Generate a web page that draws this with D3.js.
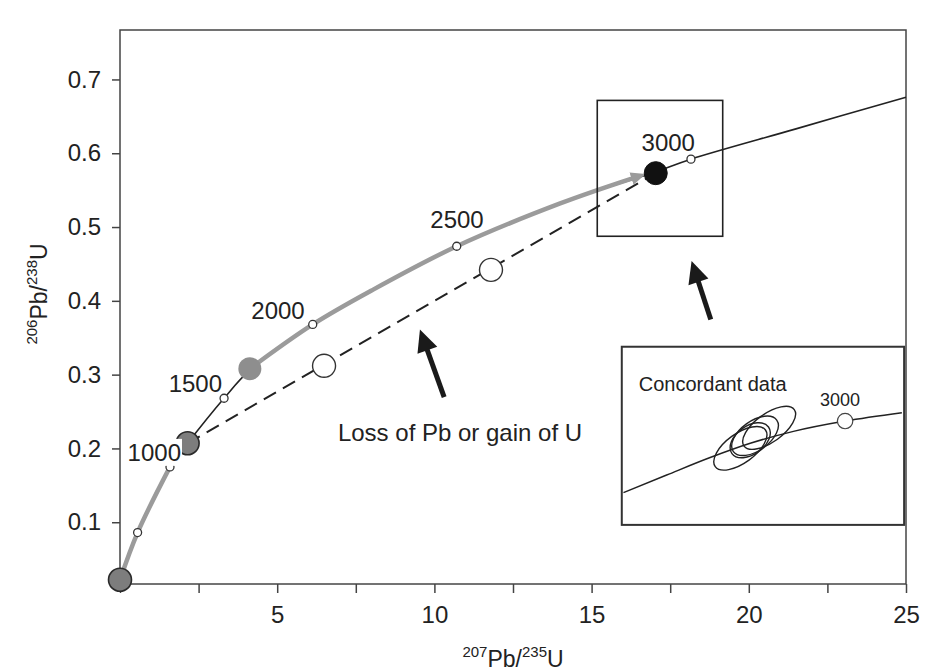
<!DOCTYPE html>
<html><head><meta charset="utf-8">
<script src="https://cdn.jsdelivr.net/npm/d3@7"></script>
<style>
body{margin:0;background:#fff}
svg{display:block}
text{font-family:"Liberation Sans",Arial,Helvetica,sans-serif;fill:#222}
</style>
</head><body>
<svg id="chart" width="926" height="671"></svg>
<script>
// ---------- data ----------
// concordia curve, 207Pb/235U vs 206Pb/238U
const concordiaX = [0, 0.56, 1.59, 2.15, 3.31, 4.13, 6.13, 8.0, 10.71, 14.0, 17.04, 18.16, 21.5, 25];
const concordiaY = [0.022, 0.086, 0.175, 0.207, 0.268, 0.306, 0.368, 0.414, 0.474, 0.532, 0.575, 0.592, 0.633, 0.676];
// age markers on the concordia (Ma)
const ages = [500, 1000, 1500, 2000, 2500, 3000];
const ageX = [0.56, 1.59, 3.31, 6.13, 10.71, 18.16];
const ageY = [0.086, 0.175, 0.268, 0.368, 0.474, 0.592];
const labeledAges = ["1000", "1500", "2000", "2500", "3000"];
// samples
const sampleX = [0, 2.15, 4.13, 6.49, 11.8, 17.04];
const sampleY = [0.022, 0.207, 0.308, 0.312, 0.442, 0.573];
const sampleKind = ["gray", "gray", "light", "open", "open", "black"];
// discordia (dashed)
const discordiaX = [2.15, 17.04];
const discordiaY = [0.207, 0.573];
// grey growth arrows along concordia
const grayArrow1X = [0, 0.56, 1.59];
const grayArrow1Y = [0.022, 0.086, 0.175];
const grayArrow2X = [4.13, 6.13, 8.0, 10.71, 14.0, 16.3];
const grayArrow2Y = [0.308, 0.368, 0.414, 0.474, 0.532, 0.566];
// black annotation arrows: [tailX, tipX], [tailY, tipY]
const blackArrowX = [[10.31, 9.54], [18.79, 18.18]];
const blackArrowY = [[0.2695, 0.361], [0.3747, 0.454]];
const annotationText = "Loss of Pb or gain of U";
// zoom box and inset box (data coords)
const zoomBoxX = [15.18, 19.17];
const zoomBoxY = [0.4875, 0.6716];
const insetBoxX = [15.96, 24.94];
const insetBoxY = [0.0964, 0.3378];
// inset content (inset units 0..10)
const insetTitle = "Concordant data";
const insetCurveX = [0.06, 1.59, 3.13, 4.55, 6.08, 7.91, 9.92];
const insetCurveY = [1.81, 2.80, 3.78, 4.58, 5.25, 5.83, 6.30];
const insetAgeX = [7.91];
const insetAgeY = [5.83];
const insetAgeLabel = ["3000"];
const ellipseCX = [5.22, 4.20, 4.72, 4.55];
const ellipseCY = [5.45, 4.30, 5.00, 4.75];
const ellipseRX = [1.10, 1.10, 0.95, 0.80];
const ellipseRY = [0.50, 0.52, 0.52, 0.50];
// axis ticks
const xTicks = [0, 2.5, 5, 7.5, 10, 12.5, 15, 17.5, 20, 22.5, 25];
const xTickLabels = ["", "", "5", "", "10", "", "15", "", "20", "", "25"];
const yTicks = [0.1, 0.2, 0.3, 0.4, 0.5, 0.6, 0.7];
const yTickLabels = ["0.1", "0.2", "0.3", "0.4", "0.5", "0.6", "0.7"];

// ---------- layout ----------
const svg = d3.select("#chart");
const L = 120, R = 906, T = 30, B = 584;
const x = d3.scaleLinear().domain([0, 25]).range([L, R]);
const y = d3.scaleLinear().domain([0.0163, 0.767]).range([B, T]);

const zip = (a, b) => a.map((v, i) => [v, b[i]]);
const line = d3.line().x(d => x(d[0])).y(d => y(d[1])).curve(d3.curveCatmullRom.alpha(0.5));

// axes
const xAxis = d3.axisBottom(x).tickValues(xTicks).tickSize(9).tickPadding(13)
  .tickFormat((d, i) => xTickLabels[i]);
const yAxis = d3.axisLeft(y).tickValues(yTicks).tickSize(8).tickPadding(11)
  .tickFormat((d, i) => yTickLabels[i]);
const gx = svg.append("g").attr("transform", `translate(0,${B})`).call(xAxis);
const gy = svg.append("g").attr("transform", `translate(${L},0)`).call(yAxis);
[gx, gy].forEach(g => {
  g.select(".domain").remove();
  g.selectAll(".tick line").attr("stroke", "#444").attr("stroke-width", 1.5);
  g.selectAll(".tick text").attr("font-size", 24).attr("fill", "#222")
    .attr("font-family", '"Liberation Sans",Arial,sans-serif');
});
// frame
svg.append("rect").attr("x", L).attr("y", T).attr("width", R - L).attr("height", B - T)
  .attr("fill", "none").attr("stroke", "#444").attr("stroke-width", 1.5);

// axis titles
const xt = svg.append("text").attr("x", (L + R) / 2).attr("y", 667).attr("text-anchor", "middle").attr("font-size", 23);
xt.append("tspan").attr("font-size", 15).attr("dy", -10).text("207");
xt.append("tspan").attr("dy", 10).text("Pb/");
xt.append("tspan").attr("font-size", 15).attr("dy", -10).text("235");
xt.append("tspan").attr("dy", 10).text("U");

const yt = svg.append("text").attr("transform", "translate(47,294) rotate(-90)").attr("text-anchor", "middle").attr("font-size", 23);
yt.append("tspan").attr("font-size", 15).attr("dy", -10).text("206");
yt.append("tspan").attr("dy", 10).text("Pb/");
yt.append("tspan").attr("font-size", 15).attr("dy", -10).text("238");
yt.append("tspan").attr("dy", 10).text("U");

// concordia
svg.append("path").attr("d", line(zip(concordiaX, concordiaY)))
  .attr("fill", "none").attr("stroke", "#222").attr("stroke-width", 1.6);

// grey arrows
const grey = "#9b9b9b";
svg.append("defs").append("marker").attr("id", "gh")
  .attr("markerUnits", "userSpaceOnUse").attr("markerWidth", 16).attr("markerHeight", 16)
  .attr("viewBox", "0 -8 16 16").attr("refX", 1).attr("refY", 0).attr("orient", "auto")
  .append("path").attr("d", "M0,-6.5L15,0L0,6.5Z").attr("fill", grey);
svg.append("path").attr("d", line(zip(grayArrow1X, grayArrow1Y)))
  .attr("fill", "none").attr("stroke", grey).attr("stroke-width", 4.5);
svg.append("path").attr("d", line(zip(grayArrow2X, grayArrow2Y)))
  .attr("fill", "none").attr("stroke", grey).attr("stroke-width", 4.5)
  .attr("marker-end", "url(#gh)");

// discordia
svg.append("line").attr("x1", x(discordiaX[0])).attr("y1", y(discordiaY[0]))
  .attr("x2", x(discordiaX[1])).attr("y2", y(discordiaY[1]))
  .attr("stroke", "#222").attr("stroke-width", 2).attr("stroke-dasharray", "14,8");

// zoom box
svg.append("rect").attr("x", x(zoomBoxX[0])).attr("y", y(zoomBoxY[1]))
  .attr("width", x(zoomBoxX[1]) - x(zoomBoxX[0])).attr("height", y(zoomBoxY[0]) - y(zoomBoxY[1]))
  .attr("fill", "none").attr("stroke", "#222").attr("stroke-width", 1.6);

// age markers
svg.selectAll("circle.age").data(zip(ageX, ageY)).join("circle").attr("class", "age")
  .attr("cx", d => x(d[0])).attr("cy", d => y(d[1])).attr("r", 4)
  .attr("fill", "#fff").attr("stroke", "#333").attr("stroke-width", 1.3);

// samples
const sampleStyle = {
  gray: {fill: "#7d7d7d", stroke: "#2a2a2a", sw: 1.6},
  light: {fill: "#8e8e8e", stroke: "none", sw: 0},
  open: {fill: "#fff", stroke: "#333", sw: 1.4},
  black: {fill: "#111", stroke: "#111", sw: 1}
};
svg.selectAll("circle.smp").data(sampleX.map((v, i) => ({x: v, y: sampleY[i], k: sampleKind[i]})))
  .join("circle").attr("class", "smp")
  .attr("cx", d => x(d.x)).attr("cy", d => y(d.y)).attr("r", 11.5)
  .attr("fill", d => sampleStyle[d.k].fill).attr("stroke", d => sampleStyle[d.k].stroke)
  .attr("stroke-width", d => sampleStyle[d.k].sw);

// age labels (offsets relative to the age markers)
const labelOffset = {"1000": [11, -6], "1500": [-2, -6], "2000": [-8, -5], "2500": [27, -18], "3000": [4, -8]};
labeledAges.forEach(a => {
  const i = ages.indexOf(+a);
  const px = x(ageX[i]) + labelOffset[a][0], py = y(ageY[i]) + labelOffset[a][1];
  if (a === "1000") {
    svg.append("rect").attr("x", px - 56).attr("y", py - 22).attr("width", 57).attr("height", 27).attr("fill", "#fff");
  }
  svg.append("text").attr("x", px).attr("y", py).attr("text-anchor", "end").attr("font-size", 24).text(a);
});

// black arrows
blackArrowX.forEach((ax, i) => {
  const t0 = [x(ax[0]), y(blackArrowY[i][0])], t1 = [x(ax[1]), y(blackArrowY[i][1])];
  const dx = t1[0] - t0[0], dy = t1[1] - t0[1], len = Math.hypot(dx, dy);
  const ux = dx / len, uy = dy / len, nx = -uy, ny = ux;
  const hl = 22, hw = 21;
  const bx = t1[0] - ux * hl, by = t1[1] - uy * hl;
  svg.append("line").attr("x1", t0[0]).attr("y1", t0[1]).attr("x2", bx + ux * 2).attr("y2", by + uy * 2)
    .attr("stroke", "#1a1a1a").attr("stroke-width", 5);
  svg.append("path").attr("d", `M${t1[0]},${t1[1]}L${bx + nx * hw / 2},${by + ny * hw / 2}L${bx - nx * hw / 2},${by - ny * hw / 2}Z`)
    .attr("fill", "#1a1a1a");
});
svg.append("text").attr("x", 460).attr("y", 441).attr("text-anchor", "middle").attr("font-size", 24).text(annotationText);

// inset
const ix0 = x(insetBoxX[0]), ix1 = x(insetBoxX[1]), iy0 = y(insetBoxY[1]), iy1 = y(insetBoxY[0]);
svg.append("rect").attr("x", ix0).attr("y", iy0).attr("width", ix1 - ix0).attr("height", iy1 - iy0)
  .attr("fill", "#fff").attr("stroke", "#333").attr("stroke-width", 2);
const ix = d3.scaleLinear().domain([0, 10]).range([ix0, ix1]);
const iy = d3.scaleLinear().domain([0, 10]).range([iy1, iy0]);
const iline = d3.line().x(d => ix(d[0])).y(d => iy(d[1])).curve(d3.curveMonotoneX);
svg.append("path").attr("d", iline(zip(insetCurveX, insetCurveY)))
  .attr("fill", "none").attr("stroke", "#222").attr("stroke-width", 1.5);
const upx = ix(1) - ix(0);
ellipseCX.forEach((cx, i) => {
  svg.append("ellipse").attr("cx", 0).attr("cy", 0).attr("rx", ellipseRX[i] * upx).attr("ry", ellipseRY[i] * upx)
    .attr("transform", `translate(${ix(cx)},${iy(ellipseCY[i])}) rotate(-36)`)
    .attr("fill", "none").attr("stroke", "#222").attr("stroke-width", 1.4);
});
svg.append("circle").attr("cx", ix(insetAgeX[0])).attr("cy", iy(insetAgeY[0])).attr("r", 7.7)
  .attr("fill", "#fff").attr("stroke", "#444").attr("stroke-width", 1.2);
svg.append("text").attr("x", ix(insetAgeX[0]) + 15).attr("y", iy(insetAgeY[0]) - 15)
  .attr("text-anchor", "end").attr("font-size", 18).text(insetAgeLabel[0]);
svg.append("text").attr("x", ix0 + 17).attr("y", iy0 + 44).attr("font-size", 20).text(insetTitle);
</script>
</body></html>
